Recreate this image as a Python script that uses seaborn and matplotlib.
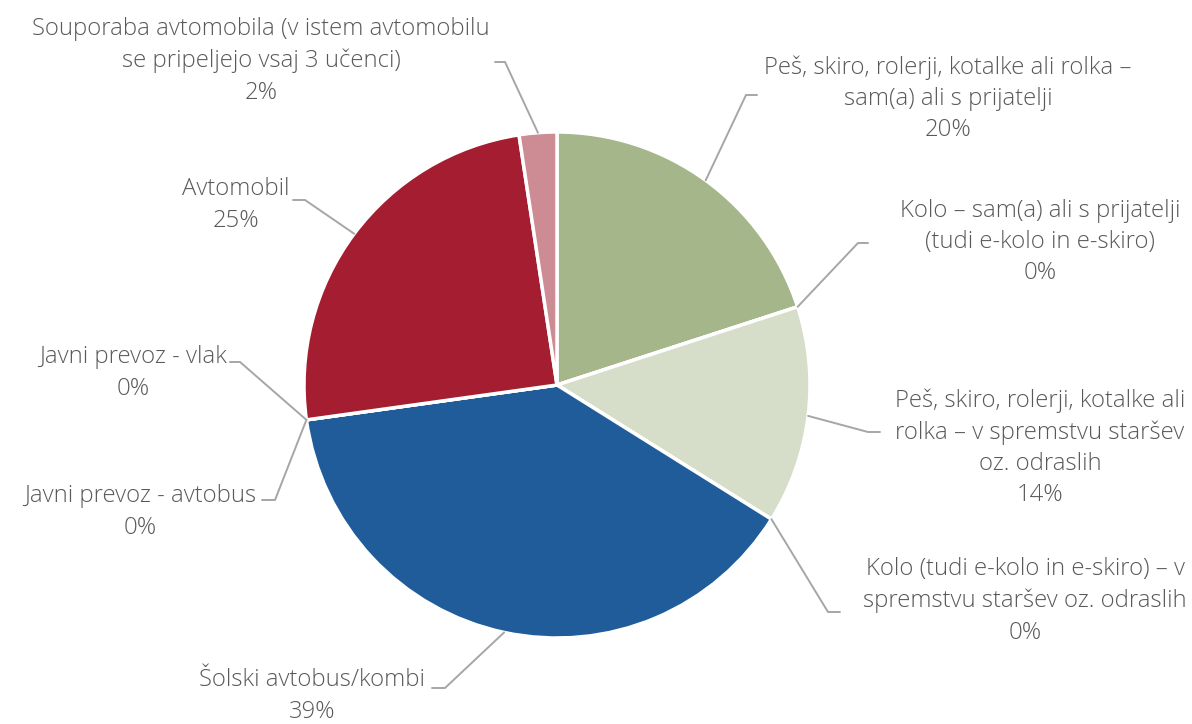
import numpy as np
import matplotlib.pyplot as plt
import seaborn as sns

# data (shares; labels show rounded values)
categories = [
    "Peš, skiro, rolerji, kotalke ali rolka –\nsam(a) ali s prijatelji",
    "Kolo – sam(a) ali s prijatelji\n(tudi e-kolo in e-skiro)",
    "Peš, skiro, rolerji, kotalke ali\nrolka – v spremstvu staršev\noz. odraslih",
    "Kolo (tudi e-kolo in e-skiro) – v\nspremstvu staršev oz. odraslih",
    "Šolski avtobus/kombi",
    "Javni prevoz - avtobus",
    "Javni prevoz - vlak",
    "Avtomobil",
    "Souporaba avtomobila (v istem avtomobilu\nse pripeljejo vsaj 3 učenci)",
]
shares = [20.0, 0, 13.9, 0, 38.9, 0, 0, 24.8, 2.4]
colors = ["#A5B68B", "#C9D4B8", "#D6DECA", "#8FA3C8", "#1F5C99",
          "#4F7FB8", "#7A9CC9", "#A41D30", "#CD8C93"]

# label layout in pixel coords (y from top): text centre, elbow, line end
text_pos = [(948, 99), (1040, 242), (1040, 448), (1025, 601), (312, 696),
            (140, 512), (133, 373), (236, 205), (261, 61)]
elbows = [(746, 95), (858, 243), (868, 432), (828, 612), (445, 688),
          (275, 500), (240, 362), (305, 200), (505, 62)]
line_ends = [(757, 95), (868, 243), (880, 432), (840, 612), (432, 688),
             (262, 500), (230, 362), (293, 200), (495, 62)]

W, H = 1192, 724
cx, cy, r = 557, 385, 253

sns.set_style("white")
plt.rcParams['font.family'] = ['Open Sans', 'DejaVu Sans']

fig = plt.figure(figsize=(W / 100, H / 100), dpi=100)
ax = fig.add_axes([0, 0, 1, 1])

wedges, _ = ax.pie(shares, colors=colors, startangle=90, counterclock=False,
                   center=(cx, H - cy), radius=r,
                   wedgeprops=dict(edgecolor="white", linewidth=2.5))
ax.set_xlim(0, W)
ax.set_ylim(0, H)
ax.set_aspect("equal")
ax.axis("off")

for i, w in enumerate(wedges):
    ang = np.deg2rad((w.theta1 + w.theta2) / 2)
    sx = cx + r * np.cos(ang)
    sy = (H - cy) + r * np.sin(ang)
    ex, ey = elbows[i]
    lx, ly = line_ends[i]
    ax.plot([sx, ex, lx], [sy, H - ey, H - ly], color="#A6A6A6", lw=1.4,
            solid_joinstyle="miter")
    tx, ty = text_pos[i]
    ax.text(tx, H - ty, f"{categories[i]}\n{round(shares[i])}%", ha="center",
            va="center", multialignment="center", fontsize=17.2,
            fontweight="light", color="#595959", linespacing=1.4)

plt.savefig("out.png", dpi=100)
